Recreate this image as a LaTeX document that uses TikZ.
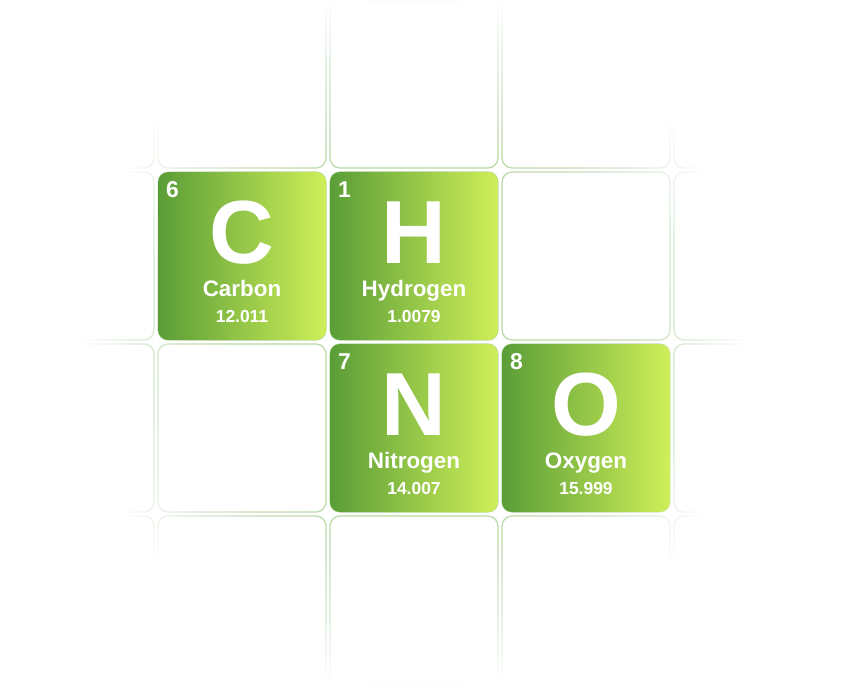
\documentclass[tikz,border=0pt]{standalone}
\usepackage{fontspec}
\setmainfont{Liberation Sans}
\definecolor{tileL}{RGB}{90,157,55}
\definecolor{tileR}{RGB}{207,239,89}
\definecolor{gridline}{RGB}{184,217,163}
\begin{document}
\begin{tikzpicture}[x=1bp,y=-1bp,
  gridcell/.style={draw=gridline, line width=1.2bp, rounded corners=10bp},
  tile/.style={rectangle, minimum width=168bp, minimum height=168bp, inner sep=0pt,
    rounded corners=10bp, left color=tileL, right color=tileR},
  anum/.style={text=white, inner sep=0pt, anchor=base west, font=\bfseries\fontsize{23}{23}\selectfont},
  sym/.style={text=white, inner sep=0pt, anchor=base, font=\bfseries\fontsize{90}{90}\selectfont},
  ename/.style={text=white, inner sep=0pt, anchor=base, font=\bfseries\fontsize{22.5}{22.5}\selectfont},
  emass/.style={text=white, inner sep=0pt, anchor=base, font=\bfseries\fontsize{17.5}{17.5}\selectfont}]
\useasboundingbox (0,0) rectangle (842,684);
\fill[white] (0,0) rectangle (842,684);
% background grid
\foreach \c in {0,...,4}{
  \foreach \r in {0,...,3}{
    \draw[gridcell] ({-14+172*\c},{172*\r}) rectangle ++(168,168);
  }
}
% radial fade of the grid (stacked white veils outside growing ellipses)
\foreach \k in {1,...,32}{
  \pgfmathsetmacro\rr{190+5*\k}
  \pgfmathsetmacro\rx{0.95*\rr}
  \pgfmathsetmacro\aa{1/(33-\k)}
  \fill[white, fill opacity=\aa, even odd rule] (-100,-100) rectangle (950,800)
    (414,342) ellipse[x radius=\rx, y radius=\rr];
}
% element tiles
\node[tile] (C) at (242,256) {};
\node[tile] (H) at (414,256) {};
\node[tile] (N) at (414,428) {};
\node[tile] (O) at (586,428) {};
% Carbon
\node[anum]  (Cn) at ([shift={(8,26)}]C.north west) {6};
\node[sym]   (Cs) at ([shift={(0,92)}]C.north) {C};
\node[ename] (Ce) at ([shift={(0,125)}]C.north) {Carbon};
\node[emass] (Cm) at ([shift={(0,151)}]C.north) {12.011};
% Hydrogen
\node[anum]  (Hn) at ([shift={(8,26)}]H.north west) {1};
\node[sym]   (Hs) at ([shift={(0,92)}]H.north) {H};
\node[ename] (He) at ([shift={(0,125)}]H.north) {Hydrogen};
\node[emass] (Hm) at ([shift={(0,151)}]H.north) {1.0079};
% Nitrogen
\node[anum]  (Nn) at ([shift={(8,26)}]N.north west) {7};
\node[sym]   (Ns) at ([shift={(0,92)}]N.north) {N};
\node[ename] (Ne) at ([shift={(0,125)}]N.north) {Nitrogen};
\node[emass] (Nm) at ([shift={(0,151)}]N.north) {14.007};
% Oxygen
\node[anum]  (On) at ([shift={(8,26)}]O.north west) {8};
\node[sym]   (Os) at ([shift={(0,92)}]O.north) {O};
\node[ename] (Oe) at ([shift={(0,125)}]O.north) {Oxygen};
\node[emass] (Om) at ([shift={(0,151)}]O.north) {15.999};
\end{tikzpicture}
\end{document}
